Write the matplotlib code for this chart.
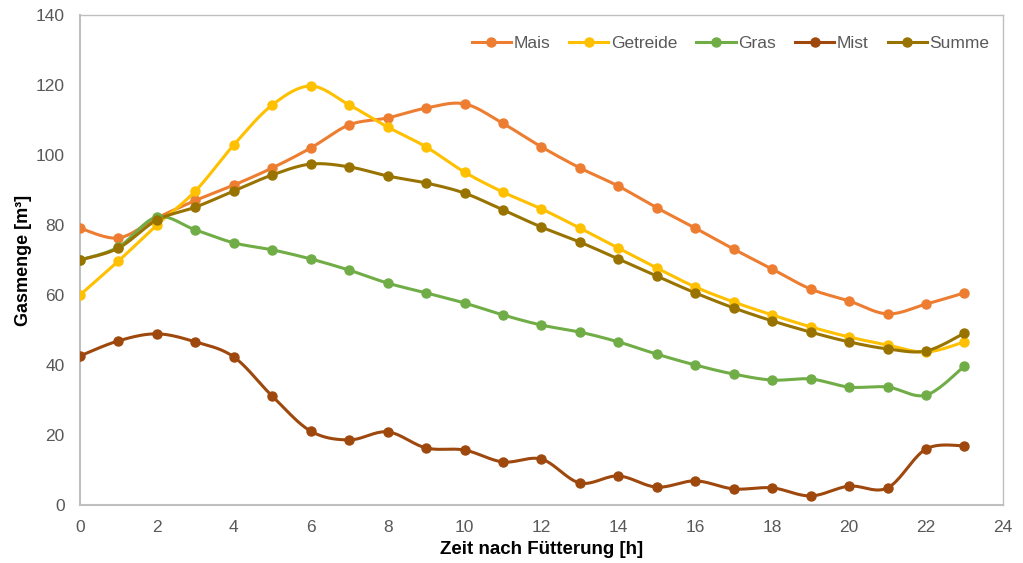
import numpy as np
import matplotlib
matplotlib.use('Agg')
from matplotlib import pyplot as plt

plt.rcParams['font.family'] = ['Liberation Sans', 'DejaVu Sans']

# =============================================================================
# DATA
# =============================================================================
hours = list(range(24))
mais = [79.1, 76.3, 82.0, 87.0, 91.4, 96.3, 102.0, 108.6, 110.6, 113.4, 114.6, 109.0,
        102.3, 96.3, 91.1, 84.9, 79.1, 73.1, 67.4, 61.7, 58.3, 54.6, 57.4, 60.6]
getreide = [60.0, 69.7, 80.0, 89.7, 102.9, 114.3, 119.7, 114.3, 108.0, 102.3, 95.1, 89.4,
            84.6, 79.1, 73.4, 67.7, 62.3, 58.0, 54.3, 50.9, 48.0, 45.7, 43.7, 46.6]
gras = [70.0, 73.7, 82.3, 78.6, 74.9, 72.9, 70.3, 67.1, 63.4, 60.6, 57.7, 54.3,
        51.4, 49.4, 46.6, 43.1, 40.0, 37.4, 35.7, 36.0, 33.7, 33.7, 31.4, 39.7]
mist = [42.6, 46.9, 48.9, 46.6, 42.3, 31.1, 21.1, 18.6, 20.9, 16.3, 15.7, 12.3,
        13.1, 6.3, 8.3, 5.1, 6.9, 4.6, 4.9, 2.6, 5.4, 4.9, 16.0, 16.9]
summe = [70.0, 73.4, 81.4, 85.1, 89.7, 94.3, 97.4, 96.6, 94.0, 92.0, 89.1, 84.3,
         79.4, 75.1, 70.3, 65.4, 60.6, 56.3, 52.6, 49.4, 46.6, 44.6, 44.0, 49.1]

series_names = ['Mais', 'Getreide', 'Gras', 'Mist', 'Summe']
series_values = [mais, getreide, gras, mist, summe]
colors = ['#ED7D31', '#FFC000', '#70AD47', '#9E480E', '#997300']


def smooth(x, y, n=20):
    # Excel-like smoothed line: cubic bezier between points, catmull-rom tangents
    x = np.asarray(x, float)
    y = np.asarray(y, float)
    px = np.concatenate([[x[0]], x, [x[-1]]])
    py = np.concatenate([[y[0]], y, [y[-1]]])
    t = np.linspace(0, 1, n)[:, None]
    xs, ys = [], []
    for i in range(1, len(px) - 2):
        p0 = np.array([px[i], py[i]])
        p3 = np.array([px[i + 1], py[i + 1]])
        c1 = p0 + (np.array([px[i + 1], py[i + 1]]) - np.array([px[i - 1], py[i - 1]])) / 6
        c2 = p3 - (np.array([px[i + 2], py[i + 2]]) - np.array([px[i], py[i]])) / 6
        b = ((1 - t) ** 3) * p0 + 3 * ((1 - t) ** 2) * t * c1 + 3 * (1 - t) * t ** 2 * c2 + t ** 3 * p3
        xs.append(b[:, 0])
        ys.append(b[:, 1])
    return np.concatenate(xs), np.concatenate(ys)


fig = plt.figure(figsize=(10.23, 5.63), dpi=100)
ax = fig.add_axes([0.0782, 0.103, 0.9022, 0.8704])

for name, vals, col in zip(series_names, series_values, colors):
    sx, sy = smooth(hours, vals)
    ax.plot(sx, sy, color=col, lw=2.2, solid_capstyle='round', zorder=2)
    ax.plot(hours, vals, 'o', color=col, ms=6.5, zorder=3)
    ax.plot([], [], '-o', color=col, lw=2.2, ms=6.5, label=name)

ax.set_xlim(0, 24)
ax.set_ylim(0, 140)
ax.set_xticks(np.arange(0, 25, 2))
ax.set_yticks(np.arange(0, 141, 20))
ax.tick_params(length=0, labelsize=12.5, labelcolor='#595959')
ax.tick_params(axis='x', pad=11)
ax.tick_params(axis='y', pad=11)
for s in ax.spines.values():
    s.set_color('#BFBFBF')
    s.set_linewidth(1.0)
ax.spines['left'].set_linewidth(1.5)
ax.spines['bottom'].set_linewidth(1.5)

ax.set_xlabel('Zeit nach Fütterung [h]', fontsize=13.5, fontweight='bold', labelpad=4)
ax.set_ylabel('Gasmenge [m³]', fontsize=13, fontweight='bold', labelpad=3)

ax.legend(loc='upper right', bbox_to_anchor=(1.002, 0.989), ncol=5, frameon=False,
          fontsize=12.5, handlelength=2.25, handletextpad=0.15, columnspacing=1.1,
          labelcolor='#595959')

fig.savefig('out.png', dpi=100)
